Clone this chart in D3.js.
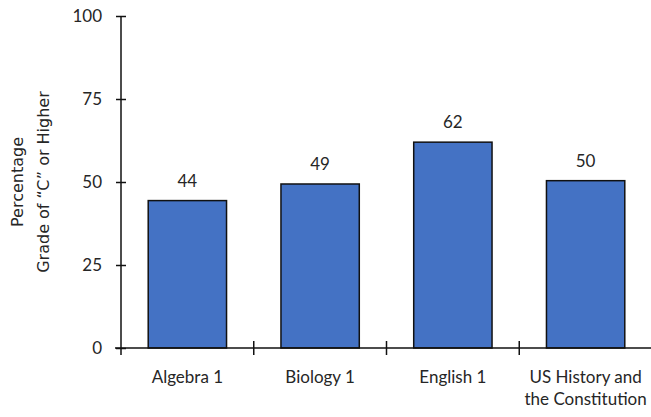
<!DOCTYPE html>
<html><head><meta charset="utf-8">
<script src="https://cdn.jsdelivr.net/npm/d3@7"></script>
<style>body{margin:0;background:#fff}svg{display:block}</style>
</head><body>
<svg id="c" width="651" height="417"></svg>
<script>
const categories = [["Algebra 1"], ["Biology 1"], ["English 1"], ["US History and", "the Constitution"]];
const values = [44.4, 49.4, 62.0, 50.4];
const yTicks = [0, 25, 50, 75, 100];
const yTitle = ["Percentage", "Grade of \u201CC\u201D or Higher"];

const svg = d3.select("#c");
const mLeft = 121, mRight = 652, mTop = 16, mBottom = 348;
const font = "Lato, 'Open Sans', sans-serif";

const x = d3.scaleBand().domain(d3.range(categories.length)).range([mLeft, mRight]).paddingInner(0.41).paddingOuter(0.205);
const y = d3.scaleLinear().domain([0, 100]).range([mBottom, mTop]);

// bars
svg.append("g").selectAll("rect").data(values).join("rect")
  .attr("x", (d, i) => x(i)).attr("width", x.bandwidth())
  .attr("y", d => y(d)).attr("height", d => y(0) - y(d))
  .attr("fill", "#4472C4").attr("stroke", "#111").attr("stroke-width", 1.5);

// data labels
svg.append("g").selectAll("text").data(values).join("text")
  .attr("x", (d, i) => x(i) + x.bandwidth() / 2).attr("y", d => y(d) - 14)
  .attr("text-anchor", "middle").attr("font-family", font).attr("font-size", 17).attr("fill", "#262626")
  .text(d => Math.round(d));

// y axis
const ya = svg.append("g").attr("transform", `translate(${mLeft},0)`)
  .call(d3.axisLeft(y).tickValues(yTicks).tickSize(5).tickPadding(14));
ya.select(".domain").remove();
ya.selectAll(".tick line").attr("x1", -5).attr("x2", 5).attr("stroke", "#111").attr("stroke-width", 1.5);
ya.selectAll(".tick text").attr("font-family", font).attr("font-size", 17).attr("fill", "#262626");
svg.append("line").attr("x1", mLeft).attr("x2", mLeft).attr("y1", mTop).attr("y2", mBottom + 7)
  .attr("stroke", "#111").attr("stroke-width", 1.5);

// x axis
svg.append("line").attr("x1", mLeft - 6).attr("x2", 651).attr("y1", mBottom).attr("y2", mBottom)
  .attr("stroke", "#111").attr("stroke-width", 1.5);
const bounds = d3.range(1, categories.length + 1).map(i => x(i - 1) + x.bandwidth() + x.step() * x.paddingInner() / 2);
svg.append("g").selectAll("line").data(bounds).join("line")
  .attr("x1", d => d).attr("x2", d => d).attr("y1", mBottom - 7).attr("y2", mBottom + 7)
  .attr("stroke", "#111").attr("stroke-width", 1.5);
const xl = svg.append("g").selectAll("text").data(categories).join("text")
  .attr("x", (d, i) => x(i) + x.bandwidth() / 2).attr("y", mBottom + 35)
  .attr("text-anchor", "middle").attr("font-family", font).attr("font-size", 17).attr("fill", "#262626");
xl.selectAll("tspan").data(d => d).join("tspan")
  .attr("x", function () { return this.parentNode.getAttribute("x"); })
  .attr("dy", (d, i) => i === 0 ? 0 : 22).text(d => d);

// y title
const cy = (mTop + mBottom) / 2;
svg.append("text").attr("transform", `translate(23,${cy}) rotate(-90)`)
  .attr("text-anchor", "middle").attr("font-family", "'DejaVu Sans', sans-serif").attr("font-size", 16).attr("fill", "#262626")
  .selectAll("tspan").data(yTitle).join("tspan")
  .attr("x", 0).attr("dy", (d, i) => i === 0 ? 0 : 26).text(d => d);
</script>
</body></html>
